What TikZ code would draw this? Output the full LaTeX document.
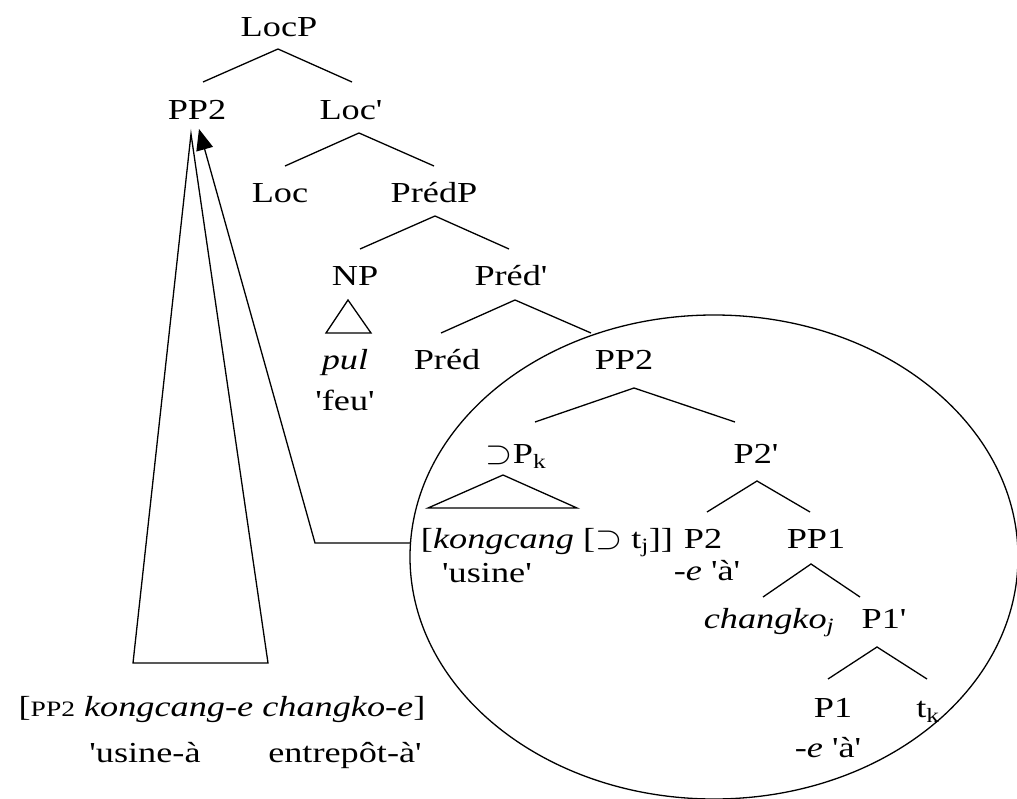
\documentclass[tikz,border=0pt]{standalone}
\usepackage{fontspec}
\setmainfont[FakeStretch=1.25,Ligatures=TeXOff]{Liberation Serif}
\usetikzlibrary{arrows.meta}
\newcommand{\sps}{\scalebox{1.4}[1.3]{$\supset$}}
\begin{document}
\begin{tikzpicture}[x=1pt,y=-1pt,
  lab/.style={anchor=base,inner sep=0pt,font=\fontsize{29}{34}\selectfont},
  br/.style={line width=1.3pt},
  mv/.style={line width=1.3pt,-{Triangle[length=21pt,width=17pt]}}]
\useasboundingbox (0,0) rectangle (1017,799);
% nodes
\node[lab] (locp) at (279,37) {LocP};
\node[lab] (pp2a) at (197,120) {PP2};
\node[lab] (locb) at (351,120) {Loc'};
\node[lab] (loc) at (280,203) {Loc};
\node[lab] (predp) at (434,203) {PrédP};
\node[lab] (np) at (355,286) {NP};
\node[lab] (predb) at (511,286) {Préd'};
\node[lab] (pul) at (345,370) {\textit{pul}};
\node[lab] (feu) at (345,410) {'feu'};
\node[lab] (pred) at (447,370) {Préd};
\node[lab] (pp2b) at (624,370) {PP2};
\node[lab] (dpk) at (516,463) {\sps P\textsubscript{k}};
\node[lab] (p2b) at (756,463) {P2'};
\node[lab] (kong) at (547,548) {[\textit{kongcang} [\sps{} t\textsubscript{j}]]};
\node[lab] (usine) at (487,582) {'usine'};
\node[lab] (p2) at (703,548) {P2};
\node[lab] (pp1) at (816,548) {PP1};
\node[lab] (ea1) at (707,580) {\textit{-e} 'à'};
\node[lab] (chang) at (769,628) {\textit{changko}\textsubscript{\textit{j}}};
\node[lab] (p1b) at (884,628) {P1'};
\node[lab] (p1) at (833,717) {P1};
\node[lab] (tk) at (928,717) {t\textsubscript{k}};
\node[lab] (ea2) at (828,757) {\textit{-e} 'à'};
\node[lab] (gl1) at (222,716) {[{\fontsize{22}{22}\selectfont PP2} \textit{kongcang-e changko-e}]};
\node[lab] (gl2a) at (145,762) {'usine-à};
\node[lab] (gl2b) at (345,762) {entrepôt-à'};
% branch coordinates
\coordinate (a1) at (278,49); \coordinate (a1l) at (203,82); \coordinate (a1r) at (352,82);
\coordinate (a2) at (359,133); \coordinate (a2l) at (285,166); \coordinate (a2r) at (434,166);
\coordinate (a3) at (435,216); \coordinate (a3l) at (360,249); \coordinate (a3r) at (509,249);
\coordinate (a4) at (515,300); \coordinate (a4l) at (441,333); \coordinate (a4r) at (591,333);
\coordinate (a5) at (634,388); \coordinate (a5l) at (535,422); \coordinate (a5r) at (735,422);
\coordinate (a6) at (757,481); \coordinate (a6l) at (707,512); \coordinate (a6r) at (810,512);
\coordinate (a7) at (811,564); \coordinate (a7l) at (763,597); \coordinate (a7r) at (860,597);
\coordinate (a8) at (877,647); \coordinate (a8l) at (828,679); \coordinate (a8r) at (927,679);
\draw[br] (a1l) -- (a1) -- (a1r);
\draw[br] (a2l) -- (a2) -- (a2r);
\draw[br] (a3l) -- (a3) -- (a3r);
\draw[br] (a4l) -- (a4) -- (a4r);
\draw[br] (a5l) -- (a5) -- (a5r);
\draw[br] (a6l) -- (a6) -- (a6r);
\draw[br] (a7l) -- (a7) -- (a7r);
\draw[br] (a8l) -- (a8) -- (a8r);
% triangles
\coordinate (t1) at (348,300); \coordinate (t1l) at (326,333); \coordinate (t1r) at (371,333);
\draw[br] (t1) -- (t1l) -- (t1r) -- cycle;
\coordinate (t2) at (503,475); \coordinate (t2l) at (428,508); \coordinate (t2r) at (577,508);
\draw[br] (t2) -- (t2l) -- (t2r) -- cycle;
% big triangle from PP2
\coordinate (bt) at (191,134); \coordinate (btl) at (133,663); \coordinate (btr) at (268,663);
\draw[br] (bt) -- (btl) -- (btr) -- cycle;
% ellipse
\draw[br] (714,557) ellipse [x radius=304, y radius=242];
% movement arrow
\coordinate (e0) at (410,543); \coordinate (e1) at (315,543); \coordinate (tip) at (199,129);
\draw[mv] (e0) -- (e1) -- (tip);
\end{tikzpicture}
\end{document}
